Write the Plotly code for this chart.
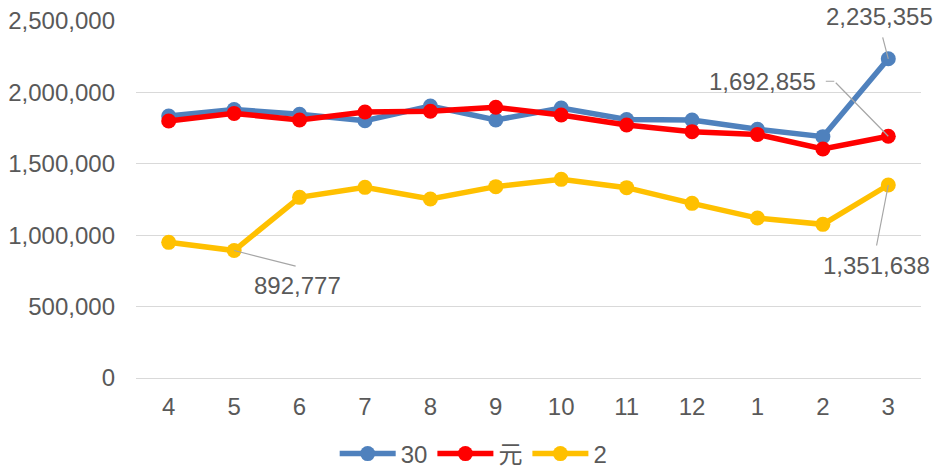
import plotly.graph_objects as go

months = ["4", "5", "6", "7", "8", "9", "10", "11", "12", "1", "2", "3"]
series_names = ["30", "元", "2"]
values_30 = [1835000, 1880000, 1847000, 1802000, 1905000, 1807000, 1890000, 1810000, 1807000, 1742000, 1690000, 2235355]
values_gen = [1800000, 1853000, 1807000, 1863000, 1868000, 1896000, 1842000, 1772000, 1725000, 1706000, 1604000, 1692855]
values_2 = [950000, 892777, 1265000, 1335000, 1253000, 1340000, 1391000, 1333000, 1223000, 1120000, 1076000, 1351638]
y_ticks = [0, 500000, 1000000, 1500000, 2000000, 2500000]

colors = ["#4F81BD", "#FF0000", "#FFC000"]
FONT = "Liberation Sans, Arial, Noto Sans CJK JP, sans-serif"
TEXT_COLOR = "#595959"
LEADER = "#A6A6A6"

fig = go.Figure()
for name, vals, col in zip(series_names, [values_30, values_gen, values_2], colors):
    fig.add_trace(go.Scatter(
        x=months, y=vals, name=name, mode="lines+markers",
        line=dict(color=col, width=5.5),
        marker=dict(color=col, size=15),
    ))


def label(i, y, text, dx, dy):
    fig.add_annotation(x=i, y=y, text=text, showarrow=False,
                       xshift=dx, yshift=dy, xanchor="center", yanchor="middle",
                       font=dict(size=24, color=TEXT_COLOR, family=FONT))


def leader(i, y, ax, ay, sx=0, sy=0):
    fig.add_annotation(x=i, y=y, text="", showarrow=True, arrowhead=0,
                       arrowwidth=1.2, arrowcolor=LEADER, ax=ax, ay=ay,
                       xshift=sx, yshift=sy, font=dict(size=1))


def fmt(v):
    return f"{v:,}"

last = len(months) - 1
# 30 - last point
label(last, values_30[last], fmt(values_30[last]), -9, 42)
leader(last, values_30[last], -6, -23)
# 元 - last point
label(last, values_gen[last], fmt(values_gen[last]), -126, 55)
leader(last, values_gen[last], -54, -55)
leader(last, values_gen[last], -10, 0, sx=-54, sy=55)
# 2 - month 5
label(1, values_2[1], fmt(values_2[1]), 63, -35)
leader(1, values_2[1], 63, 16)
# 2 - last point
label(last, values_2[last], fmt(values_2[last]), -12, -81)
leader(last, values_2[last], -12, 62)

fig.update_layout(
    width=938, height=469,
    margin=dict(l=136, r=17, t=21, b=91, autoexpand=False),
    paper_bgcolor="white", plot_bgcolor="white",
    font=dict(family=FONT, size=24, color=TEXT_COLOR),
    showlegend=True,
    legend=dict(orientation="h", xref="container", yref="container",
                x=0.505, xanchor="center", y=15 / 469, yanchor="middle",
                font=dict(size=24, color=TEXT_COLOR), itemwidth=56,
                tracegroupgap=0),
    xaxis=dict(type="category", range=[-0.5, 11.5], showgrid=False,
               showline=False, zeroline=False, ticks="",
               ticklabelstandoff=12,
               tickfont=dict(size=24, color=TEXT_COLOR)),
    yaxis=dict(range=[0, 2500000], tickvals=y_ticks,
               ticktext=[fmt(v) for v in y_ticks],
               showgrid=True, gridcolor="#D9D9D9", gridwidth=1,
               zeroline=True, zerolinecolor="#D9D9D9", zerolinewidth=1,
               showline=False, ticks="", ticklabelstandoff=20,
               tickfont=dict(size=24, color=TEXT_COLOR)),
)

fig.write_html("out.html", config={"displayModeBar": False},
               post_script="document.body.style.margin='0';document.body.style.overflow='hidden';")
